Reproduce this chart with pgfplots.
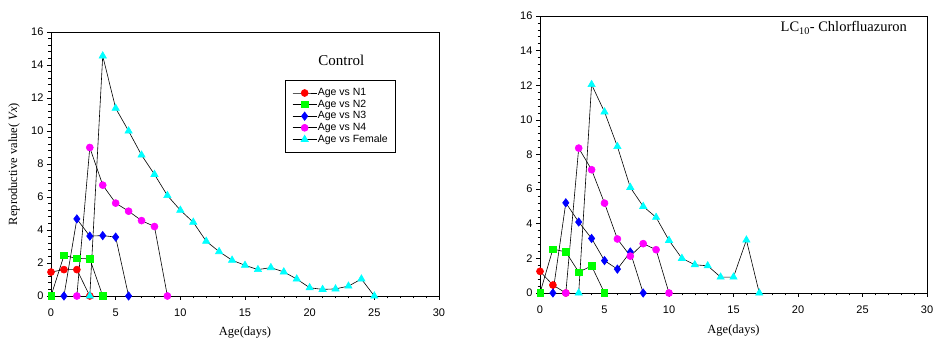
\documentclass[border=0pt]{standalone}
\usepackage{fontspec}
\setmainfont{Liberation Serif}
\setsansfont{Liberation Sans}
\usepackage{pgfplots}
\pgfplotsset{compat=1.18}
\definecolor{cR}{RGB}{255,0,0}
\definecolor{cG}{RGB}{0,255,0}
\definecolor{cB}{RGB}{0,0,255}
\definecolor{cM}{RGB}{255,0,255}
\definecolor{cC}{RGB}{0,255,255}
\pgfplotsset{
 myaxis/.style={
  scale only axis, xmin=0, xmax=30, ymin=0, ymax=16,
  xtick={0,5,...,30}, ytick={0,2,...,16},
  minor x tick num=4, minor y tick num=4,
  tick align=outside, tick pos=left,
  major tick length=4pt, minor tick length=2.5pt,
  every tick/.style={black, line width=0.6pt},
  axis line style={line width=0.8pt},
  tick label style={font=\sffamily\fontsize{11}{13}\selectfont},
  xticklabel style={yshift=-5pt},
  /pgf/number format/assume math mode=true,
  label style={font=\fontsize{12.5}{14}\selectfont},
  clip=false,
  every axis plot/.append style={black, line width=0.6pt, mark size=3.5pt},
 },
 n1/.style={mark=*, mark options={draw=cR, fill=cR}},
 n2/.style={mark=square*, mark size=3.2pt, mark options={draw=cG, fill=cG}},
 n3/.style={mark=diamond*, mark size=4.2pt, mark options={draw=cB, fill=cB}},
 n4/.style={mark=*, mark options={draw=cM, fill=cM}},
 fe/.style={mark=triangle*, mark size=4.2pt, mark options={draw=cC, fill=cC}},
}
\begin{document}
\begin{tikzpicture}
\begin{axis}[myaxis, at={(51pt,46pt)}, anchor=south west, width=388pt, height=264pt,
  xlabel={Age(days)}, ylabel={Reproductive value( \textit{Vx})},
  xlabel style={at={(axis description cs:0.5,-0.14)}, anchor=center},
  ylabel style={at={(axis description cs:-0.095,0.5)}, anchor=center},
  legend style={at={(rel axis cs:0.603,0.818)}, anchor=north west,
    font=\sffamily\fontsize{10.5}{11}\selectfont, draw=black, line width=0.8pt,
    inner xsep=7pt, inner ysep=7pt, row sep=0.5pt,
    nodes={inner sep=0.8pt, text height=7.5pt, text depth=2pt}},
  legend cell align=left,
  legend image code/.code={\draw[#1, mark repeat=2, mark phase=2] plot coordinates {(0pt,0pt) (12pt,0pt) (24pt,0pt)};},
]
\addplot[n1] coordinates {(0,1.45) (1,1.6) (2,1.6) (3,0)};
\addplot[n2] coordinates {(0,0) (1,2.45) (2,2.28) (3,2.25) (4,0)};
\addplot[n3] coordinates {(1,0) (2,4.67) (3,3.63) (4,3.66) (5,3.57) (6,0)};
\addplot[n4] coordinates {(2,0) (3,9.0) (4,6.72) (5,5.63) (6,5.14) (7,4.57) (8,4.21) (9,0)};
\addplot[fe] coordinates {(3,0) (4,14.55) (5,11.38) (6,10.0) (7,8.54) (8,7.37) (9,6.09) (10,5.2) (11,4.47) (12,3.32) (13,2.69) (14,2.17) (15,1.86) (16,1.6) (17,1.72) (18,1.46) (19,1.03) (20,0.5) (21,0.4) (22,0.43) (23,0.6) (24,1.03) (25,0)};
\legend{Age vs N1, Age vs N2, Age vs N3, Age vs N4, Age vs Female}
\node[font=\fontsize{15}{17}\selectfont] at (axis cs:22.45,14.3) {Control};
\end{axis}
\begin{axis}[myaxis, at={(540pt,49pt)}, anchor=south west, width=387pt, height=277pt,
  xlabel={Age(days)},
  xlabel style={at={(axis description cs:0.5,-0.134)}, anchor=center},
]
\addplot[n1] coordinates {(0,1.25) (1,0.46) (2,0)};
\addplot[n2] coordinates {(0,0) (1,2.54) (2,2.37) (3,1.21) (4,1.56) (5,0)};
\addplot[n3] coordinates {(1,0) (2,5.21) (3,4.1) (4,3.15) (5,1.87) (6,1.38) (7,2.37) (8,0)};
\addplot[n4] coordinates {(2,0) (3,8.37) (4,7.12) (5,5.19) (6,3.12) (7,2.13) (8,2.85) (9,2.5) (10,0)};
\addplot[fe] coordinates {(3,0) (4,12.04) (5,10.46) (6,8.46) (7,6.1) (8,5.0) (9,4.37) (10,3.04) (11,2.0) (12,1.63) (13,1.57) (14,0.92) (15,0.92) (16,3.06) (17,0)};
\node[font=\fontsize{14.5}{17}\selectfont] at (rel axis cs:0.785,0.957) {LC$_{\mathrm{10}}$- Chlorfluazuron};
\end{axis}
\pgfresetboundingbox
\useasboundingbox (0,0) rectangle (935pt,342pt);
\end{tikzpicture}
\end{document}
